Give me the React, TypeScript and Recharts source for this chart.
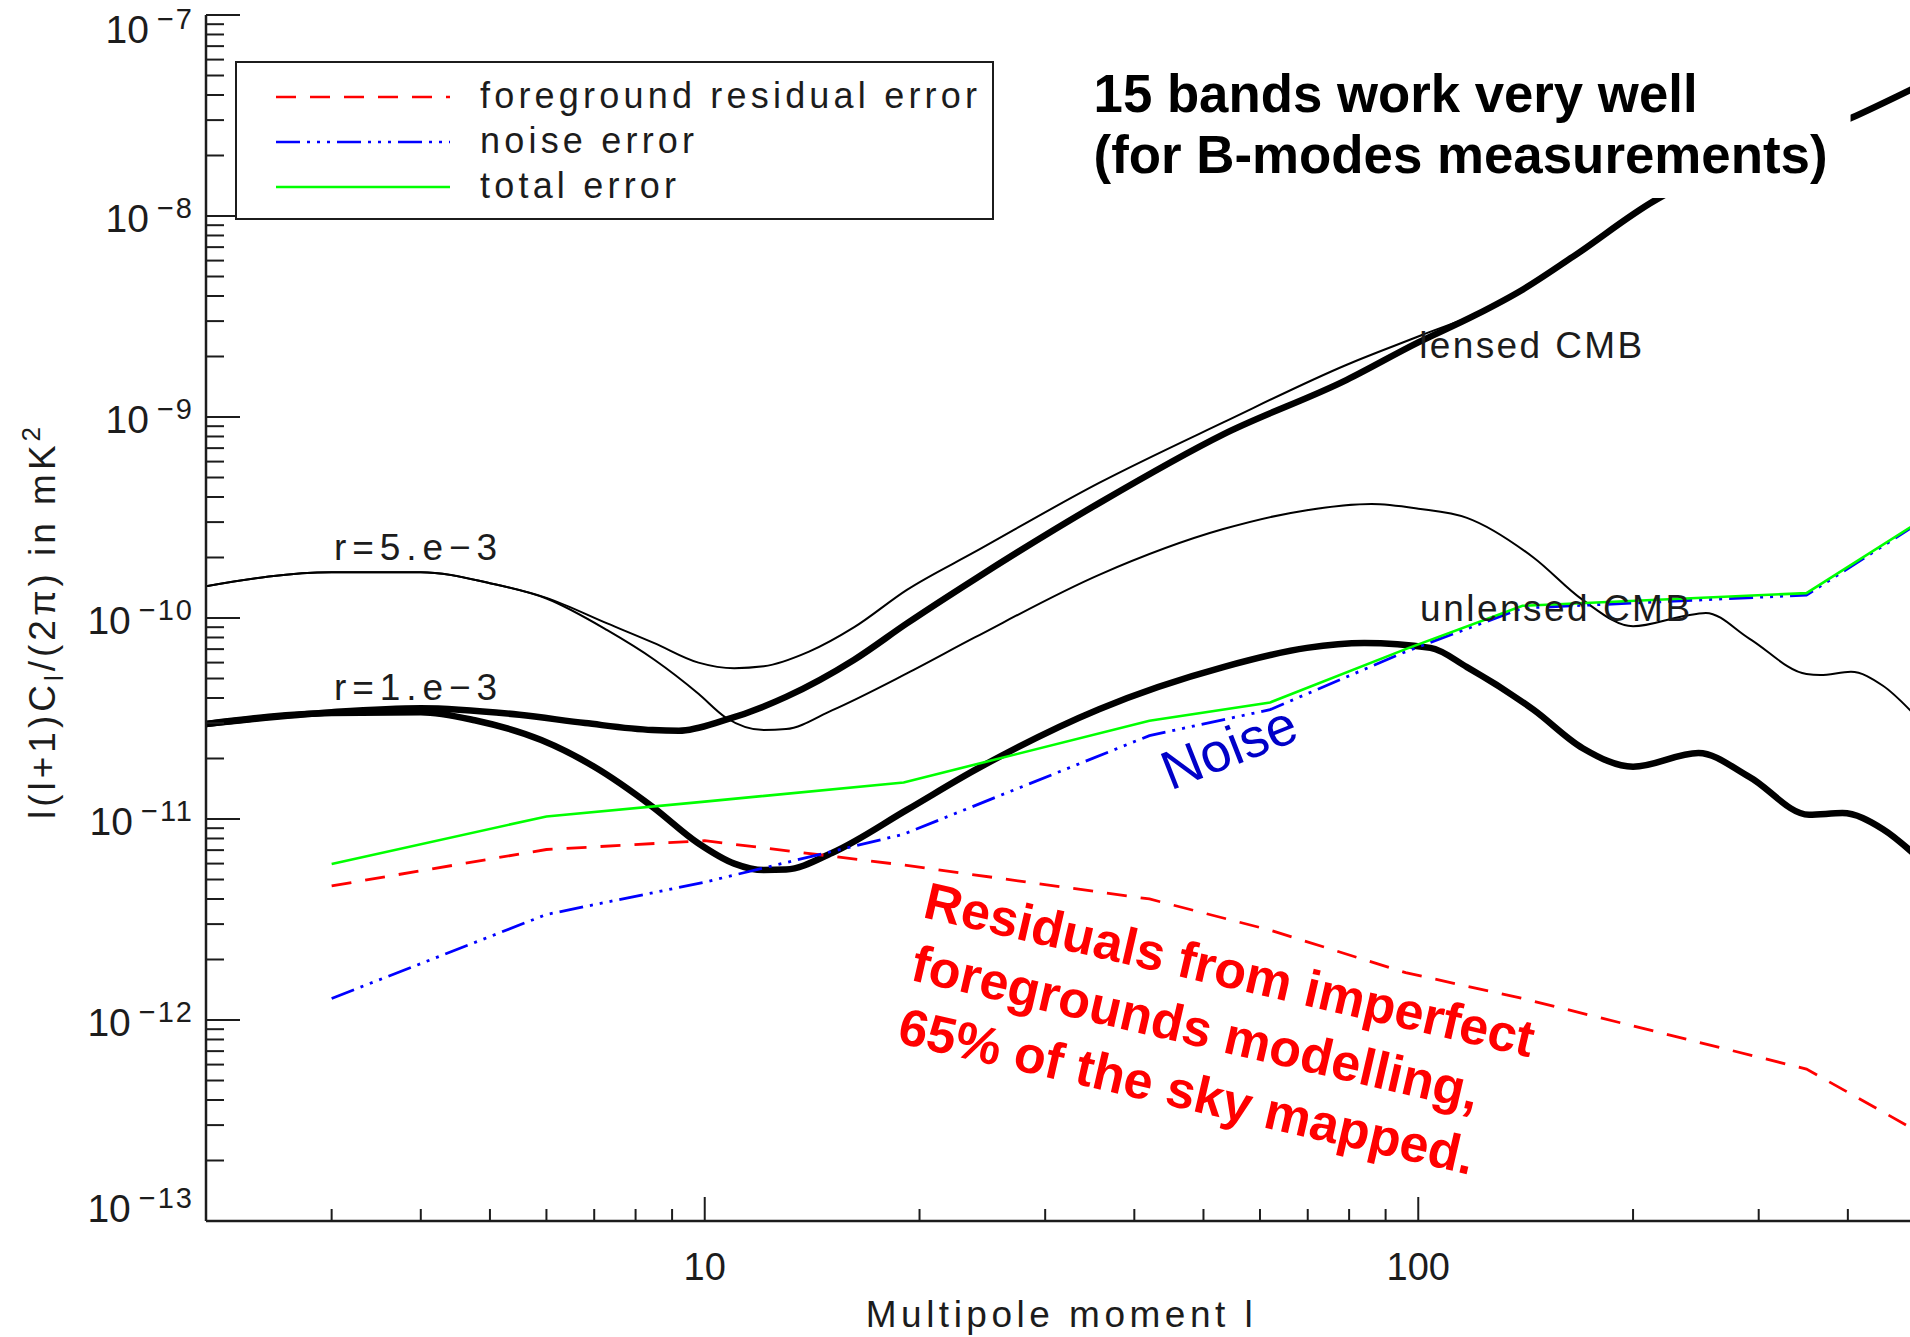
import React from "react";
import {
  ComposedChart,
  Label,
  Legend,
  Line,
  ReferenceDot,
  XAxis,
  YAxis,
} from "recharts";

// binned error estimates, one value per multipole band
const bandL = [3, 6, 10, 19, 42, 62, 96, 140, 350, 500];
const foregroundResidual = [
  4.65e-12, 7.05e-12, 7.8e-12, 5.9e-12, 4.0e-12, 2.8e-12, 1.72e-12, 1.28e-12,
  5.7e-13, 2.8e-13,
];
const noiseError = [
  1.28e-12, 3.35e-12, 4.85e-12, 8.4e-12, 2.6e-11, 3.5e-11, 6.8e-11, 1.12e-10,
  1.3e-10, 2.93e-10,
];
const totalError = [
  5.97e-12, 1.03e-11, 1.22e-11, 1.52e-11, 3.08e-11, 3.8e-11, 7.0e-11, 1.15e-10,
  1.33e-10, 2.97e-10,
];

// B-mode spectra, r = 5e-3 (thin) and r = 1e-3 (thick)
const lensedR5L = [
  2, 3, 4, 5, 6, 7.3, 8.5, 9.8, 11, 12.1, 14, 16.2, 19.2, 23.9, 35.7, 53.3,
  79.4, 101, 125, 150, 165, 215,
];
const lensedR5 = [
  1.44e-10, 1.69e-10, 1.69e-10, 1.49e-10, 1.26e-10, 9.4e-11, 7.5e-11, 6.0e-11,
  5.63e-11, 5.75e-11, 6.8e-11, 9.0e-11, 1.38e-10, 2.13e-10, 4.7e-10, 9.4e-10,
  1.82e-9, 2.55e-9, 3.45e-9, 5.05e-9, 6.35e-9, 1.21e-8,
];
const unlensedR5L = [
  2, 3, 4, 5, 6, 7.3, 8.5, 9.8, 10.7, 12.1, 13, 15.1, 19.2, 23.9, 35.7, 53.3,
  69.8, 86, 100, 117, 145, 170, 200, 235, 253, 291, 350, 366, 404, 448, 500,
];
const unlensedR5 = [
  1.44e-10, 1.69e-10, 1.69e-10, 1.49e-10, 1.25e-10, 8.7e-11, 6.2e-11, 4.2e-11,
  3.2e-11, 2.77e-11, 2.8e-11, 3.48e-11, 5.3e-11, 8.0e-11, 1.64e-10, 2.77e-10,
  3.44e-10, 3.69e-10, 3.5e-10, 3.15e-10, 2.0e-10, 1.23e-10, 9.1e-11, 1.02e-10,
  1.06e-10, 7.9e-11, 5.26e-11, 5.2e-11, 5.4e-11, 4.6e-11, 3.2e-11,
];
const lensedR1L = [
  2, 3, 4, 5.5, 6.8, 8.45, 9.2, 10.66, 13, 16.2, 19.2, 23.9, 35.7, 53.3, 79.4,
  100, 120, 140, 165, 215, 300, 404, 500,
];
const lensedR1 = [
  2.97e-11, 3.4e-11, 3.56e-11, 3.3e-11, 3.0e-11, 2.77e-11, 2.75e-11, 3.1e-11,
  4.05e-11, 6.2e-11, 9.4e-11, 1.56e-10, 3.73e-10, 8.2e-10, 1.53e-9, 2.35e-9,
  3.2e-9, 4.3e-9, 6.3e-9, 1.2e-8, 2.0e-8, 3.07e-8, 4.4e-8,
];
const unlensedR1L = [
  2, 3, 4, 4.76, 5.9, 7, 8.45, 9.78, 11, 12.1, 13, 15.1, 19.2, 23.9, 35.7, 53.3,
  69.8, 84, 104, 117, 145, 170, 200, 247, 291, 353, 393, 448, 500,
];
const unlensedR1 = [
  2.97e-11, 3.37e-11, 3.4e-11, 3.1e-11, 2.47e-11, 1.82e-11, 1.15e-11, 7.6e-12,
  6.0e-12, 5.57e-12, 5.6e-12, 6.8e-12, 1.11e-11, 1.75e-11, 3.52e-11, 5.7e-11,
  7.1e-11, 7.5e-11, 7.1e-11, 5.7e-11, 3.5e-11, 2.25e-11, 1.82e-11, 2.13e-11,
  1.62e-11, 1.05e-11, 1.07e-11, 8.9e-12, 6.5e-12,
];

// axes
const xDomain = [2, 500];
const xTicks = [2, 3, 4, 5, 6, 7, 8, 9, 10, 20, 30, 40, 50, 60, 70, 80, 90, 100, 200, 300, 400, 500];
const xLabelled = [10, 100];
const yExponents = [-13, -12, -11, -10, -9, -8, -7];
const yTicks = yExponents.flatMap((e, i) =>
  i === yExponents.length - 1
    ? [Math.pow(10, e)]
    : [1, 2, 3, 4, 5, 6, 7, 8, 9].map((k) => Number((k * Math.pow(10, e)).toPrecision(3))),
);

const FONT = "'Liberation Sans', Arial, sans-serif";
const INK = "#1c1c1c";

const pts = (ls: number[], vs: number[]) => ls.map((l, i) => ({ l, v: vs[i] }));

function XTick(props: any) {
  const { x, y, payload, top } = props;
  const major = xLabelled.includes(payload.value);
  const len = major ? 24 : 12;
  return (
    <g>
      <line x1={x} x2={x} y1={y} y2={top ? y + len : y - len} stroke={INK} strokeWidth={2} />
      {!top && major && (
        <text x={x} y={y + 59} textAnchor="middle" fontFamily={FONT} fontSize={38} fill={INK}>
          {payload.value}
        </text>
      )}
    </g>
  );
}

function YTick(props: any) {
  const { x, y, payload, right } = props;
  const v = payload.value;
  const e = Math.round(Math.log10(v));
  const major = Math.abs(v / Math.pow(10, e) - 1) < 1e-6;
  const len = major ? 34 : 18;
  const dy = e === -7 ? 28 : e === -13 ? 1 : 16;
  return (
    <g>
      <line x1={x} x2={right ? x - len : x + len} y1={y} y2={y} stroke={INK} strokeWidth={2} />
      {!right && major && (
        <text x={x - 12} y={y + dy} textAnchor="end" fontFamily={FONT} fontSize={39} fill={INK}>
          10
          <tspan dx={8} dy={-14} fontSize={29} letterSpacing={2}>
            {"\u2212" + Math.abs(e)}
          </tspan>
        </text>
      )}
    </g>
  );
}

function LegendBox(props: any) {
  const rows = (props.payload || []).filter((p: any) => p.type !== "none");
  return (
    <svg width={759} height={159} style={{ display: "block" }}>
      <rect x={1} y={1} width={757} height={157} fill="#fff" stroke={INK} strokeWidth={2} />
      {rows.map((p: any, i: number) => (
        <g key={p.value}>
          <line
            x1={41}
            x2={215}
            y1={36 + i * 45}
            y2={36 + i * 45}
            stroke={p.color}
            strokeWidth={2.5}
            strokeDasharray={p.payload?.strokeDasharray}
          />
          <text x={245} y={47 + i * 45} fontFamily={FONT} fontSize={36} letterSpacing={4.2} fill={INK}>
            {p.value}
          </text>
        </g>
      ))}
    </svg>
  );
}

const plainText = (text: string, width: number) => (p: any) => (
  <text x={p.cx} y={p.cy} fontFamily={FONT} fontSize={37} fill={INK} textLength={width} lengthAdjust="spacing">
    {text}
  </text>
);

export default function App() {
  return (
    <div
      style={{
        position: "fixed",
        left: 0,
        top: 0,
        width: 1910,
        height: 1337,
        overflow: "hidden",
        background: "#fff",
      }}
    >
      <ComposedChart width={1930} height={1337} margin={{ top: 15, right: 13, bottom: 0, left: 0 }}>
        <XAxis
          xAxisId={0}
          dataKey="l"
          type="number"
          scale="log"
          domain={xDomain}
          allowDataOverflow
          ticks={xTicks}
          interval={0}
          height={116}
          tickSize={0}
          tickMargin={0}
          axisLine={{ stroke: INK, strokeWidth: 2.5 }}
          tick={(p: any) => <XTick {...p} />}
        >
          <Label
            content={(p: any) => {
              const vb = p.viewBox;
              return (
                <text
                  x={vb.x + vb.width / 2}
                  y={vb.y + 106}
                  textAnchor="middle"
                  fontFamily={FONT}
                  fontSize={37}
                  letterSpacing={4.5}
                  fill={INK}
                >
                  Multipole moment l
                </text>
              );
            }}
          />
        </XAxis>
        <XAxis
          xAxisId="top"
          orientation="top"
          dataKey="l"
          type="number"
          scale="log"
          domain={xDomain}
          allowDataOverflow
          ticks={xTicks}
          interval={0}
          height={0}
          tickSize={0}
          tickMargin={0}
          axisLine={{ stroke: INK, strokeWidth: 2.5 }}
          tick={(p: any) => <XTick {...p} top />}
        />
        <YAxis
          yAxisId={0}
          type="number"
          scale="log"
          domain={[1e-13, 1e-7]}
          allowDataOverflow
          ticks={yTicks}
          interval={0}
          width={206}
          tickSize={0}
          tickMargin={0}
          axisLine={{ stroke: INK, strokeWidth: 2.5 }}
          tick={(p: any) => <YTick {...p} />}
        >
          <Label
            content={(p: any) => {
              const vb = p.viewBox;
              return (
                <g transform={`translate(${vb.x + 55}, ${vb.y + vb.height / 2 + 3}) rotate(-90)`}>
                  <text textAnchor="middle" fontFamily={FONT} fontSize={37} letterSpacing={4} fill={INK}>
                    l(l+1)C
                    <tspan fontSize={26} dy={8}>
                      l
                    </tspan>
                    <tspan dy={-8}>/(2π) in mK</tspan>
                    <tspan fontSize={26} dy={-15}>
                      2
                    </tspan>
                  </text>
                </g>
              );
            }}
          />
        </YAxis>
        <YAxis
          yAxisId="right"
          orientation="right"
          type="number"
          scale="log"
          domain={[1e-13, 1e-7]}
          allowDataOverflow
          ticks={yTicks}
          interval={0}
          width={0}
          tickSize={0}
          tickMargin={0}
          axisLine={{ stroke: INK, strokeWidth: 2.5 }}
          tick={(p: any) => <YTick {...p} right />}
        />

        <Line data={pts(unlensedR5L, unlensedR5)} dataKey="v" type="monotone" stroke="#000" strokeWidth={2} dot={false} activeDot={false} legendType="none" isAnimationActive={false} />
        <Line data={pts(lensedR5L, lensedR5)} dataKey="v" type="monotone" stroke="#000" strokeWidth={2} dot={false} activeDot={false} legendType="none" isAnimationActive={false} />
        <Line data={pts(unlensedR1L, unlensedR1)} dataKey="v" type="monotone" stroke="#000" strokeWidth={6.5} dot={false} activeDot={false} legendType="none" isAnimationActive={false} />
        <Line data={pts(lensedR1L, lensedR1)} dataKey="v" type="monotone" stroke="#000" strokeWidth={6.5} dot={false} activeDot={false} legendType="none" isAnimationActive={false} />

        <Line
          data={pts(bandL, foregroundResidual)}
          dataKey="v"
          name="foreground residual error"
          type="linear"
          stroke="#ff0000"
          strokeWidth={2.8}
          strokeDasharray="20 14"
          dot={false}
          activeDot={false}
          isAnimationActive={false}
        />
        <Line
          data={pts(bandL, noiseError)}
          dataKey="v"
          name="noise error"
          type="linear"
          stroke="#0000ff"
          strokeWidth={2.8}
          strokeDasharray="24 7 3 7 3 7 3 7"
          dot={false}
          activeDot={false}
          isAnimationActive={false}
        />
        <Line
          data={pts(bandL, totalError)}
          dataKey="v"
          name="total error"
          type="linear"
          stroke="#00ff00"
          strokeWidth={2.6}
          dot={false}
          activeDot={false}
          isAnimationActive={false}
        />

        <ReferenceDot x={3.023} y={1.944e-10} r={0} shape={plainText("r=5.e\u22123", 163)} />
        <ReferenceDot x={3.023} y={3.91e-11} r={0} shape={plainText("r=1.e\u22123", 163)} />
        <ReferenceDot x={100.3} y={1.966e-9} r={0} shape={plainText("lensed CMB", 223)} />
        <ReferenceDot x={100.6} y={9.66e-11} r={0} shape={plainText("unlensed CMB", 270)} />
        <ReferenceDot
          x={54.2}
          y={2.3e-11}
          r={0}
          shape={(p: any) => (
            <g transform={`translate(${p.cx}, ${p.cy}) rotate(-21.5)`}>
              <text x={0} y={20} textAnchor="middle" fontFamily={FONT} fontSize={55} fill="#0000c8">
                Noise
              </text>
            </g>
          )}
        />
        <ReferenceDot
          x={20.13}
          y={3.254e-12}
          r={0}
          shape={(p: any) => (
            <g transform={`translate(${p.cx}, ${p.cy}) rotate(13)`} fontFamily={FONT} fontSize={52} fontWeight="bold" fill="#ff0000">
              <text x={0} y={0}>Residuals from imperfect</text>
              <text x={2} y={64}>foregrounds modelling,</text>
              <text x={3} y={128}>65% of the sky mapped.</text>
            </g>
          )}
        />
        <ReferenceDot
          x={32.56}
          y={6.93e-8}
          r={0}
          shape={(p: any) => (
            <g fontFamily={FONT} fontSize={53} fontWeight="bold" fill="#000">
              <rect x={p.cx} y={p.cy} width={780} height={151} fill="#fff" />
              <text x={p.cx + 23} y={p.cy + 65} textLength={604} lengthAdjust="spacingAndGlyphs">
                15 bands work very well
              </text>
              <text x={p.cx + 23} y={p.cy + 126} textLength={734} lengthAdjust="spacingAndGlyphs">
                (for B-modes measurements)
              </text>
            </g>
          )}
        />

        <Legend
          layout="vertical"
          align="center"
          verticalAlign="middle"
          wrapperStyle={{ position: "absolute", left: 235, top: 61, width: 759, height: 159 }}
          content={(p: any) => <LegendBox {...p} />}
        />
      </ComposedChart>
    </div>
  );
}
